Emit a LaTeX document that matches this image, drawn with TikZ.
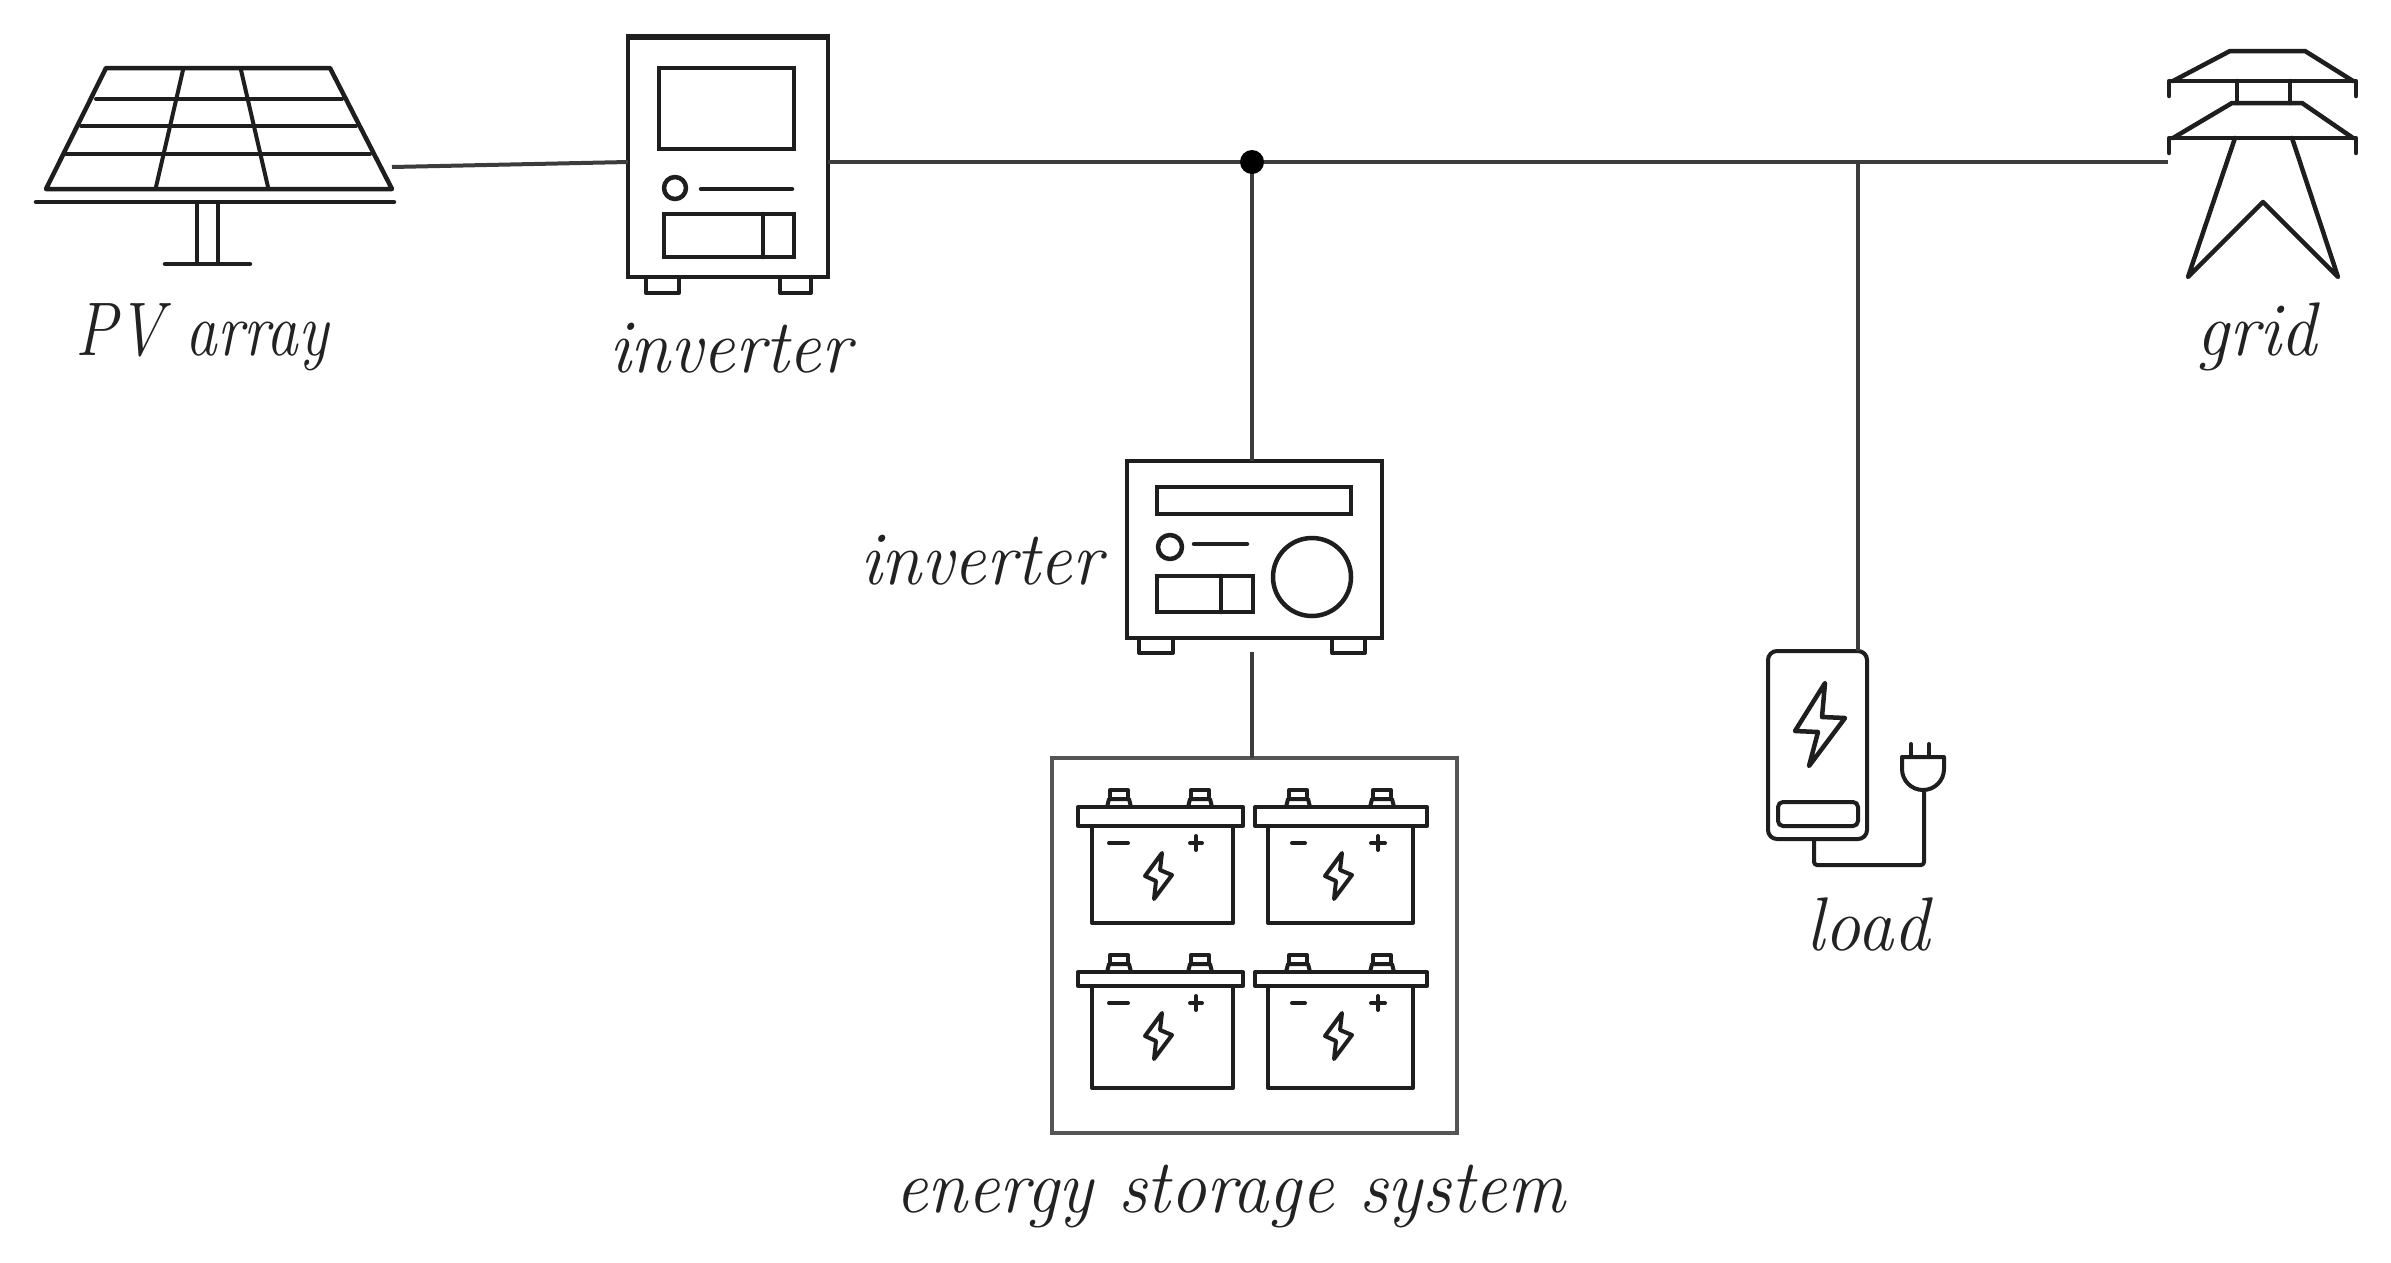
\documentclass[tikz,border=0pt]{standalone}
\definecolor{ink}{HTML}{1E1E1E}
\definecolor{wire}{HTML}{3C3C3C}
\definecolor{frame}{HTML}{555555}
\definecolor{lab}{HTML}{222222}
\tikzset{
  icon/.style={draw=ink,line width=4.5pt,line join=round,line cap=round},
  thin icon/.style={draw=ink,line width=4pt,line join=round,line cap=round},
  wireline/.style={draw=wire,line width=4pt},
  rbox/.style={rectangle,draw=ink,line width=4.5pt,inner sep=0pt,outer sep=0pt},
  label text/.style={anchor=base,inner sep=0pt,text=lab,xscale=.95,transform shape,font=\fontsize{76}{88}\selectfont\itshape},
}
% #1 left lid, #2 right lid, #3 lid top, #4 lid bottom, #5 body left, #6 body right, #7 body bottom,
% #8 left terminal, #9 right terminal
\newcommand{\batt}[9]{%
  \draw[thin icon] (#1,#3) rectangle (#2,#4);
  \draw[thin icon] (#5,#4) -- (#5,#7) -- (#6,#7) -- (#6,#4);
  \foreach \tx in {#8,#9}{
    \draw[thin icon] ({\tx-12},#3) -- ({\tx-10},{#3-8}) -- ({\tx+10},{#3-8}) -- ({\tx+12},#3);
    \draw[thin icon] ({\tx-9},{#3-8}) -- ({\tx-9},{#3-17}) -- ({\tx+9},{#3-17}) -- ({\tx+9},{#3-8});
  }
}
% #1 dx, #2 dy: lightning bolt of a battery
\newcommand{\bbolt}[2]{%
  \draw[thin icon,shift={(#1,#2)}] (1162,853) -- (1145,876) -- (1156,881) -- (1154,899) -- (1172,875) -- (1160,870) -- cycle;
}
\begin{document}
\begin{tikzpicture}[x=1pt,y=-1pt]
\useasboundingbox[fill=white] (0,0) rectangle (2391,1262);

% PV array
\draw[icon] (106,68) -- (330,68) -- (392,189) -- (46,189) -- cycle;
\draw[icon,line width=4pt] (96,99) -- (342,99) (81,126) -- (356,126) (66,154) -- (370,154);
\draw[icon,line width=4pt] (183,70) -- (156,187) (241,70) -- (268,187);
\draw[icon] (36,202) -- (394,202);
\draw[icon,line width=4pt] (197,202) -- (197,264) (218,202) -- (218,264);
\draw[icon] (165,264) -- (250,264);
\coordinate (pvout) at (392,167);

% string inverter
\node[rbox,minimum width=200pt,minimum height=240pt] (invA) at (728,157) {};
\draw[draw=ink,line width=6pt] (626,37) -- (830,37);
\node[rbox,minimum width=135pt,minimum height=81pt] (invAscreen) at (726.5,108.5) {};
\draw[icon] (675,188) circle (11);
\draw[icon] (701,189) -- (792,189);
\node[rbox,minimum width=130pt,minimum height=43pt] (invAbox) at (729,235.5) {};
\draw[icon] (763,214) -- (763,257);
\draw[thin icon] (646,277) -- (646,293) -- (679,293) -- (679,277);
\draw[thin icon] (780,277) -- (780,293) -- (811,293) -- (811,277);
\coordinate (invAw) at (628,162);
\coordinate (invAe) at (828,162);

% battery inverter
\node[rbox,minimum width=255pt,minimum height=177pt] (invB) at (1254.5,549.5) {};
\node[rbox,minimum width=194pt,minimum height=27pt] (invBdisp) at (1254,500.5) {};
\draw[icon] (1170,547) circle (12);
\draw[icon] (1194,544) -- (1247,544);
\node[rbox,minimum width=96pt,minimum height=36pt] (invBbox) at (1205,594) {};
\draw[icon] (1221,576) -- (1221,612);
\draw[icon] (1312,577) circle (39);
\draw[thin icon] (1139,638) -- (1139,653) -- (1173,653) -- (1173,638);
\draw[thin icon] (1332,638) -- (1332,653) -- (1365,653) -- (1365,638);
\coordinate (invBn) at (1252,461);
\coordinate (invBs) at (1252,652);

% energy storage system
\node[rectangle,draw=frame,line width=4pt,inner sep=0pt,outer sep=0pt,minimum width=405pt,minimum height=375pt] (ess) at (1254.5,945.5) {};
\coordinate (essn) at (1252,758);
\batt{1078}{1243}{807}{826}{1092}{1233}{923}{1119}{1200}
\batt{1255}{1427}{807}{826}{1268}{1413}{923}{1298}{1382}
\batt{1078}{1243}{972}{986}{1092}{1233}{1088}{1119}{1200}
\batt{1255}{1427}{972}{986}{1268}{1413}{1088}{1298}{1382}
\bbolt{0}{0}
\bbolt{180}{0}
\bbolt{0}{160}
\bbolt{180}{160}
\draw[thin icon] (1109,843) -- (1128,843) (1190,843) -- (1202,843) (1196,836) -- (1196,850);
\draw[thin icon] (1292,843) -- (1305,843) (1371,843) -- (1385,843) (1378,836) -- (1378,850);
\draw[thin icon] (1109,1003) -- (1128,1003) (1190,1003) -- (1202,1003) (1196,996) -- (1196,1010);
\draw[thin icon] (1292,1003) -- (1305,1003) (1371,1003) -- (1385,1003) (1378,996) -- (1378,1010);

% load
\node[rectangle,rounded corners=9pt,draw=ink,line width=4pt,inner sep=0pt,outer sep=0pt,minimum width=99pt,minimum height=188pt] (load) at (1817.5,745) {};
\node[rectangle,rounded corners=5pt,draw=ink,line width=4pt,inner sep=0pt,outer sep=0pt,minimum width=80pt,minimum height=24pt] (loadbox) at (1818,814) {};
\draw[icon] (1825,683) -- (1795,731) -- (1818,732) -- (1809,766) -- (1845,718) -- (1822,717) -- cycle;
\draw[thin icon] (1902,757) -- (1944,757) -- (1944,769) arc[start angle=0,end angle=180,radius=21] -- cycle;
\draw[thin icon] (1911,757) -- (1911,744) (1929,757) -- (1929,744);
\coordinate (plug) at (1924,790);
\coordinate (loadcord) at (1814,839);
\coordinate (corner) at (1814,865);
\draw[thin icon,rounded corners=3pt] (loadcord) -- (corner) -- (plug |- corner) -- (plug);
\coordinate (loadn) at (1858,651);

% grid pylon
\draw[icon] (2173,81) -- (2230,51) -- (2305,51) -- (2353,81);
\draw[icon] (2169,96) -- (2169,81) -- (2356,81) -- (2356,96);
\draw[icon] (2237,81) -- (2237,103) (2290,81) -- (2290,103);
\draw[icon] (2173,138) -- (2232,103) -- (2302,103) -- (2353,138);
\draw[icon] (2169,153) -- (2169,138) -- (2356,138) -- (2356,153);
\draw[icon] (2235,138) -- (2188,277) -- (2263,202) -- (2338,277) -- (2292,138);
\coordinate (gridw) at (2168,162);

% connectors
\coordinate (junction) at (1252,162);
\coordinate (loadtap) at (1858,162);
\draw[wireline] (pvout) -- (invAw);
\draw[wireline] (invAe) -- (junction) -- (loadtap) -- (gridw);
\draw[wireline] (junction) -- (invBn);
\draw[wireline] (invBs) -- (essn);
\draw[wireline] (loadtap) -- (loadn);
\fill[black] (junction) circle (12);

% labels
\node[label text,xscale=.875] (l1) at (202,355) {PV array};
\node[label text] (l2) at (730,372) {inverter};
\node[label text] (l3) at (981,584) {inverter};
\node[label text] (l4) at (2257,355) {grid};
\node[label text] (l5) at (1868,950) {load};
\node[label text] (l6) at (1230,1212) {energy storage system};
\end{tikzpicture}
\end{document}
